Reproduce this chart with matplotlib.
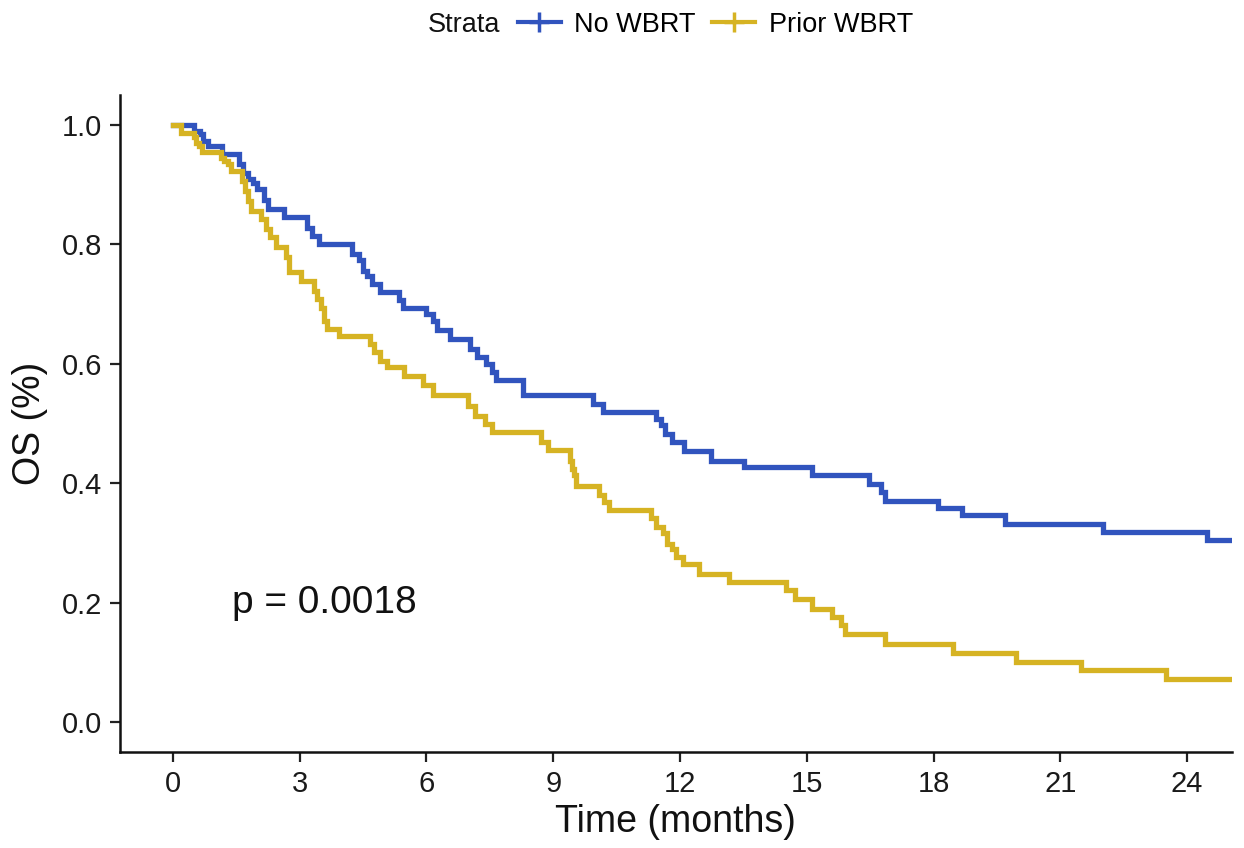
import matplotlib
matplotlib.use("Agg")
import matplotlib.pyplot as plt
from matplotlib.lines import Line2D

plt.rcParams['font.family'] = ['Liberation Sans', 'DejaVu Sans']

# ----------------------------------------------------------------
# Data: drop time, survival after drop
no_wbrt_t = [0, 0.5, 0.63, 0.71, 0.82, 1.17, 1.57, 1.65, 1.77, 1.9, 2.0, 2.15, 2.25,
             2.63, 3.18, 3.3, 3.45, 4.24, 4.4, 4.5, 4.6, 4.7, 4.9, 5.34, 5.45, 6.0,
             6.15, 6.24, 6.56, 7.03, 7.2, 7.4, 7.55, 7.65, 8.29, 9.94, 10.17, 11.43,
             11.55, 11.65, 11.8, 12.1, 12.73, 13.51, 15.13, 16.46, 16.75, 16.86,
             18.11, 18.66, 19.69, 22.0, 24.48, 25.0]
no_wbrt_s = [1.0, 0.99, 0.984, 0.973, 0.965, 0.951, 0.934, 0.920, 0.909, 0.903, 0.892,
             0.875, 0.859, 0.845, 0.828, 0.814, 0.800, 0.784, 0.773, 0.756, 0.747,
             0.734, 0.720, 0.706, 0.694, 0.683, 0.672, 0.656, 0.642, 0.625, 0.611,
             0.600, 0.586, 0.572, 0.547, 0.533, 0.520, 0.508, 0.497, 0.483, 0.469,
             0.454, 0.438, 0.427, 0.413, 0.399, 0.385, 0.371, 0.358, 0.346, 0.332,
             0.318, 0.305, 0.305]

prior_t = [0, 0.19, 0.5, 0.55, 0.62, 0.7, 1.13, 1.2, 1.3, 1.37, 1.64, 1.7, 1.78, 1.84,
           2.08, 2.2, 2.3, 2.43, 2.67, 2.74, 3.02, 3.33, 3.4, 3.5, 3.58, 3.65, 3.92,
           4.67, 4.75, 4.9, 5.06, 5.46, 5.93, 6.16, 6.98, 7.15, 7.38, 7.54, 8.72,
           8.88, 9.39, 9.45, 9.5, 9.54, 10.09, 10.2, 10.33, 11.31, 11.43, 11.6, 11.7,
           11.8, 11.9, 12.06, 12.45, 13.16, 14.5, 14.73, 15.12, 15.6, 15.8, 15.91,
           16.86, 18.47, 19.96, 21.49, 23.5, 25.0]
prior_s = [1.0, 0.987, 0.979, 0.970, 0.965, 0.954, 0.945, 0.940, 0.934, 0.923, 0.906,
           0.890, 0.873, 0.856, 0.842, 0.826, 0.812, 0.795, 0.778, 0.753, 0.739,
           0.722, 0.709, 0.694, 0.672, 0.658, 0.647, 0.633, 0.619, 0.605, 0.594,
           0.580, 0.564, 0.547, 0.530, 0.513, 0.499, 0.485, 0.469, 0.455, 0.438,
           0.424, 0.413, 0.396, 0.380, 0.368, 0.355, 0.341, 0.327, 0.316, 0.299,
           0.290, 0.276, 0.265, 0.248, 0.235, 0.221, 0.207, 0.190, 0.176, 0.162,
           0.148, 0.131, 0.115, 0.101, 0.087, 0.073, 0.073]

strata = ['No WBRT', 'Prior WBRT']
colors = ['#3154BE', '#D6B323']
x_ticks = [0, 3, 6, 9, 12, 15, 18, 21, 24]
y_ticks = [0.0, 0.2, 0.4, 0.6, 0.8, 1.0]
p_text = 'p = 0.0018'

# ----------------------------------------------------------------
fig = plt.figure(figsize=(12.44, 8.48), dpi=100)
ax = fig.add_axes([0.0965, 0.1132, 0.8935, 0.7748])

ax.step(no_wbrt_t, no_wbrt_s, where='post', color=colors[0], lw=3.8, solid_joinstyle='miter')
ax.step(prior_t, prior_s, where='post', color=colors[1], lw=3.8, solid_joinstyle='miter')

ax.set_xlim(-1.25, 25.05)
ax.set_ylim(-0.05, 1.05)
ax.set_xticks(x_ticks)
ax.set_yticks(y_ticks)
ax.set_yticklabels(['%.1f' % v for v in y_ticks])
ax.tick_params(labelsize=21, length=7, width=1.6, color='#222222', labelcolor='#1a1a1a', pad=6)
for side in ['top', 'right']:
    ax.spines[side].set_visible(False)
for side in ['left', 'bottom']:
    ax.spines[side].set_linewidth(1.8)
    ax.spines[side].set_color('#111111')

ax.set_xlabel('Time (months)', fontsize=27, color='#111111', labelpad=4)
ax.set_ylabel('OS (%)', fontsize=27, color='#111111', labelpad=10)

ax.text(1.4, 0.2, p_text, fontsize=28, va='center', ha='left', color='#111111')

# legend at top
handles = [Line2D([], [], color=c, lw=3, marker='+', markersize=14, markeredgewidth=2.5)
           for c in colors]
fig.text(0.344, 0.971, 'Strata', fontsize=19.5, va='center', ha='left', color='#111111')
fig.legend(handles, strata, loc='center left', bbox_to_anchor=(0.416, 0.971), ncol=2,
           frameon=False, fontsize=19.5, handlelength=1.6, handletextpad=0.5,
           columnspacing=0.6, borderaxespad=0, borderpad=0)

fig.savefig('out.png', dpi=100)
